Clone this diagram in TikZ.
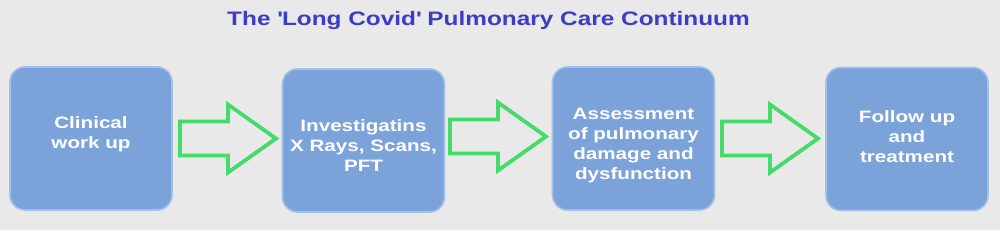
\documentclass[tikz,border=0pt]{standalone}
\usepackage{fontspec}
\setmainfont{Liberation Sans}[FakeStretch=1.25]
\usetikzlibrary{calc}
\definecolor{bgcol}{HTML}{E9E9E9}
\definecolor{boxfill}{HTML}{7BA3D9}
\definecolor{boxline}{HTML}{A3C0E8}
\definecolor{arrowgreen}{HTML}{46DA6A}
\definecolor{titleblue}{HTML}{3B3DC6}
\begin{document}
\begin{tikzpicture}[x=1pt,y=-1pt,
  stagebox/.style={draw=boxline, line width=1.6pt, fill=boxfill, rounded corners=15pt,
    minimum width=162pt, minimum height=143pt, inner sep=0pt},
  boxtext/.style={align=center, inner sep=0pt, text=white,
    font=\fontsize{16.5}{20}\selectfont\bfseries},
  blockarrow/.style={draw=arrowgreen, line width=3.8pt, line join=miter, fill=bgcol}
]
\fill[bgcol] (0,0) rectangle (1000,230);
\useasboundingbox (0,0) rectangle (1000,230);

\node[text=titleblue, font=\fontsize{19.5}{22}\selectfont\bfseries, anchor=base] (title) at (488.5,26)
  {The \textquotesingle Long Covid\textquotesingle\ Pulmonary Care Continuum};

\node[stagebox, label={[boxtext, yshift=4pt]center:Clinical\\work up}] (b1) at (91,138.5) {};
\node[stagebox, label={[boxtext, yshift=-5pt]center:Investigatins\\X Rays, Scans,\\PFT}] (b2) at (363.5,140.5) {};
\node[stagebox, label={[boxtext, yshift=-7pt]center:Assessment\\of pulmonary\\damage and\\dysfunction}] (b3) at (633.5,138.5) {};
\node[stagebox, label={[boxtext, yshift=2pt]center:Follow up\\and\\treatment}] (b4) at (907,139) {};

% block arrows between stages
\coordinate (a1) at (180,138.5);
\coordinate (a2) at (450,136.5);
\coordinate (a3) at (722,138.5);
\foreach \a in {a1,a2,a3}{
  \draw[blockarrow] ($(\a)+(0,-17)$) -- ++(48,0) -- ++(0,-17) -- ++(48,34)
    -- ++(-48,34) -- ++(0,-17) -- ++(-48,0) -- cycle;
}
\end{tikzpicture}
\end{document}
